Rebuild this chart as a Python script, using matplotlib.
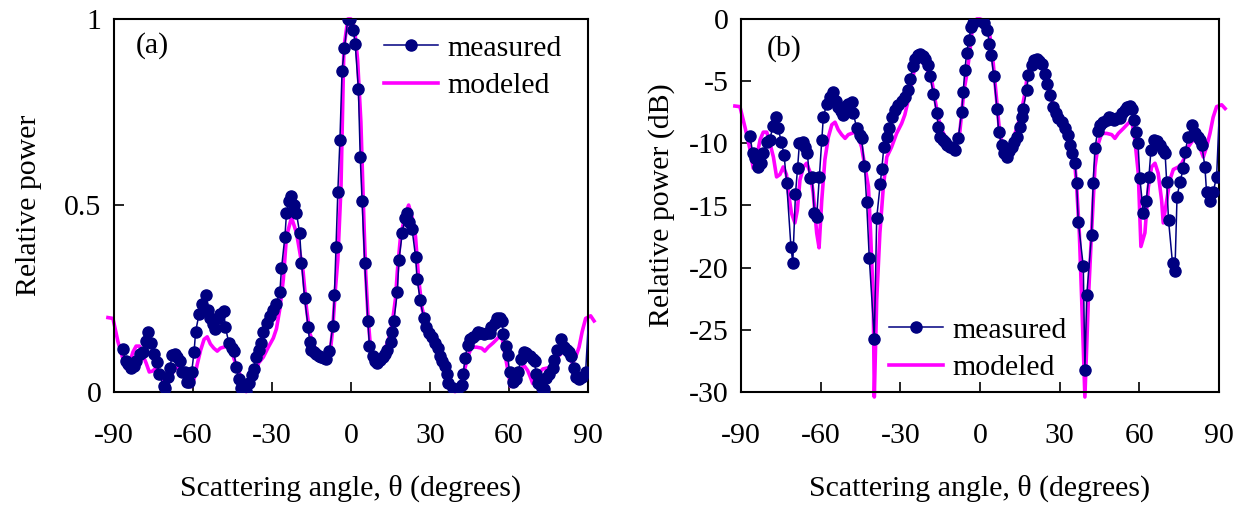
#!/usr/bin/env python3

import numpy as np
import matplotlib
matplotlib.use("Agg")
import matplotlib.pyplot as plt

plt.rcParams['font.family'] = ['Liberation Serif', 'DejaVu Serif']
plt.rcParams['axes.unicode_minus'] = False

# measured data, (angle in degrees, relative power in dB)
meas_theta = [-86.6, -85.6, -84.7, -83.5, -82.5, -81.6, -80.3, -79.1, -78.0, -77.0,
              -76.0, -74.8, -73.8, -72.8, -71.2, -70.5, -69.5, -68.7, -68.0, -66.8,
              -65.9, -65.0, -64.2, -63.2, -62.4, -61.5, -60.5, -59.6, -59.0, -57.7,
              -56.5, -55.2, -54.4, -53.4, -52.3, -51.5, -50.5, -49.6, -48.3, -47.7,
              -46.4, -45.2, -44.6, -43.5, -42.7, -41.7, -39.8, -38.9, -37.6, -37.0,
              -36.2, -35.1, -34.2, -33.3, -32.0, -30.8, -29.5, -28.3, -27.0, -26.4,
              -25.1, -24.5, -23.5, -22.6, -21.6, -20.7, -19.5, -18.8, -17.6, -16.3,
              -15.7, -15.1, -14.1, -13.2, -12.3, -11.3, -10.3, -9.4, -8.2, -6.9,
              -6.3, -5.7, -5.0, -4.2, -3.4, -2.5, -1.2, -0.4, 0.9, 1.6,
              2.8, 3.5, 4.2, 5.2, 6.4, 7.0, 8.2, 9.2, 10.0, 11.0,
              12.0, 12.8, 13.8, 15.0, 15.7, 16.3, 17.6, 18.2, 19.5, 20.4,
              21.3, 22.2, 23.2, 24.5, 25.1, 26.3, 27.6, 28.6, 29.5, 30.7,
              32.0, 33.2, 33.8, 34.5, 35.8, 36.4, 37.0, 38.9, 39.5, 40.2,
              42.0, 42.6, 43.3, 44.3, 45.2, 46.5, 47.7, 48.4, 49.5, 50.5,
              51.5, 52.7, 53.3, 54.6, 55.5, 56.5, 57.3, 57.9, 58.8, 59.5,
              60.2, 61.5, 62.6, 63.6, 64.4, 65.6, 66.6, 67.8, 69.0, 69.7,
              70.3, 71.0, 72.5, 73.4, 74.2, 75.3, 76.6, 77.2, 78.4, 79.7,
              80.9, 82.0, 82.8, 83.5, 84.7, 85.3, 86.5, 87.8, 89.1, 90.2]
meas_db = [-9.4, -10.8, -11.2, -11.9, -11.6, -10.8, -9.9, -9.7, -8.6, -7.9,
           -8.8, -9.9, -10.9, -13.2, -18.3, -19.6, -14.1, -12.0, -10.0, -9.9,
           -10.3, -10.8, -12.8, -12.7, -15.6, -15.9, -12.7, -9.7, -7.9, -6.8,
           -6.25, -5.85, -6.6, -7.05, -7.4, -7.7, -7.0, -6.8, -6.65, -7.6,
           -8.8, -9.3, -9.6, -11.8, -14.7, -19.2, -25.7, -16.0, -13.3, -12.1,
           -10.3, -9.5, -8.8, -7.9, -7.3, -6.9, -6.6, -6.25, -5.7, -4.8,
           -3.8, -3.2, -2.9, -2.8, -3.0, -3.2, -3.7, -4.6, -6.0, -7.6,
           -8.7, -9.5, -9.7, -9.9, -10.1, -10.3, -10.4, -10.5, -9.6, -7.5,
           -5.85, -4.1, -2.7, -1.7, -0.65, -0.35, 0.0, 0.0, -0.13, -0.3,
           -0.9, -2.0, -2.9, -4.6, -7.2, -9.1, -10.1, -10.8, -11.1, -10.6,
           -10.3, -9.9, -9.5, -8.7, -7.9, -7.2, -5.7, -4.5, -3.7, -3.3,
           -3.2, -3.4, -3.6, -4.4, -5.2, -6.1, -7.05, -7.6, -8.0, -8.3,
           -8.8, -9.3, -10.1, -10.8, -11.6, -13.2, -16.3, -19.9, -28.2, -22.2,
           -17.4, -13.2, -10.4, -9.0, -8.5, -8.3, -8.1, -7.9, -8.0, -8.1,
           -8.0, -8.0, -7.6, -7.3, -7.05, -7.0, -7.2, -8.1, -9.1, -10.0,
           -12.8, -15.6, -14.6, -12.7, -10.5, -9.7, -9.8, -10.1, -10.5, -10.8,
           -13.1, -16.2, -19.65, -20.3, -14.3, -13.1, -12.0, -10.7, -9.5, -8.5,
           -9.2, -9.5, -9.7, -10.1, -11.9, -13.9, -14.6, -13.9, -12.7, -7.1]

# modeled data, (angle in degrees, relative power in dB)
model_theta = [-92.3, -90.4, -88.5, -86.6, -85.4, -84.1, -82.8, -81.6, -80.3, -79.1,
               -77.8, -76.6, -75.3, -74.1, -72.9, -72.2, -71.0, -69.7, -68.8, -67.8,
               -66.5, -65.3, -64.0, -62.8, -61.5, -60.6, -59.6, -58.4, -57.1, -55.8,
               -54.6, -53.4, -52.1, -50.8, -49.6, -48.3, -47.1, -45.8, -44.6, -43.3,
               -42.0, -41.2, -40.2, -39.8, -38.9, -37.7, -36.4, -35.1, -33.3, -31.4,
               -29.5, -28.3, -27.0, -25.7, -24.5, -22.6, -20.7, -18.2, -16.9, -15.7,
               -13.8, -11.3, -9.4, -7.8, -6.9, -6.0, -5.0, -3.8, -2.7, -1.2,
               0.0, 1.3, 2.5, 3.75, 5.0, 5.6, 6.5, 7.3, 8.2, 10.0,
               11.9, 13.2, 14.4, 15.7, 16.9, 17.6, 18.8, 20.7, 21.9, 23.2,
               24.5, 25.7, 27.0, 28.9, 30.7, 32.6, 34.5, 35.8, 36.4, 37.4,
               38.3, 39.5, 40.8, 42.0, 43.3, 44.6, 45.8, 47.7, 49.6, 50.8,
               52.1, 54.0, 55.8, 57.1, 58.3, 59.6, 60.6, 62.1, 63.4, 64.6,
               65.9, 67.1, 68.4, 69.0, 70.3, 71.5, 72.8, 74.7, 76.0, 77.2,
               78.4, 80.3, 82.2, 84.1, 85.3, 86.6, 87.8, 89.1, 91.0, 92.3]
model_db = [-7.0, -7.05, -8.7, -10.5, -12.0, -11.1, -9.7, -9.1, -9.1, -10.0,
            -11.1, -12.7, -12.5, -11.9, -12.5, -13.9, -15.6, -16.4, -15.4, -12.95,
            -11.9, -11.6, -12.3, -14.0, -17.2, -18.4, -14.6, -11.3, -9.5, -8.5,
            -8.3, -8.9, -9.3, -9.6, -9.3, -9.2, -9.1, -9.5, -10.3, -11.9,
            -13.5, -17.2, -22.6, -30.4, -22.6, -17.2, -13.5, -11.1, -10.3, -9.2,
            -8.4, -7.7, -6.5, -5.2, -3.8, -3.3, -3.7, -4.9, -6.5, -8.0,
            -9.2, -10.0, -10.4, -9.5, -7.6, -5.7, -4.5, -2.6, -0.35, 0.0,
            0.0, -0.1, -0.5, -1.4, -3.6, -5.0, -7.05, -8.9, -10.0, -10.7,
            -10.0, -9.2, -8.4, -7.3, -6.0, -4.9, -3.8, -3.2, -3.0, -3.3,
            -3.8, -5.2, -6.5, -7.6, -8.4, -9.2, -10.3, -11.9, -13.5, -17.2,
            -22.6, -30.4, -22.6, -17.2, -11.9, -10.0, -9.2, -9.2, -9.3, -9.6,
            -9.2, -8.8, -8.4, -8.1, -9.7, -12.4, -18.3, -17.2, -13.5, -11.9,
            -11.6, -12.4, -14.6, -16.4, -14.6, -12.95, -12.1, -11.9, -11.6, -11.1,
            -10.3, -9.7, -10.0, -11.1, -10.3, -9.2, -7.9, -7.05, -6.9, -7.2]

x_ticks = [-90, -60, -30, 0, 30, 60, 90]
navy = '#000080'
magenta = '#FF00FF'
fs = 21.5


def style_axes(ax):
    for s in ax.spines.values():
        s.set_linewidth(1.5)
    ax.tick_params(direction='in', length=7.5, width=1.2, labelsize=fs,
                   top=False, right=False)
    ax.tick_params(axis='x', pad=22)
    ax.tick_params(axis='y', pad=9)
    ax.set_xlim(-90, 90)
    ax.set_xticks(x_ticks)
    ax.set_xticklabels([str(t) for t in x_ticks])
    ax.set_xlabel('Scattering angle, θ (degrees)', fontsize=fs, labelpad=19)


def draw_curves(ax, mt, my, dt, dy):
    ax.plot(dt, dy, '-', color=magenta, lw=2.6, clip_on=False, zorder=2,
            label='modeled')
    # last measured point sits just past 90 deg: line only, no marker
    ax.plot(mt, my, '-o', color=navy, lw=1.1, ms=8, markevery=slice(0, len(mt) - 1),
            zorder=3, label='measured')


def add_legend(ax, anchor):
    h, l = ax.get_legend_handles_labels()
    ax.legend(h[::-1], l[::-1], loc='upper left', bbox_to_anchor=anchor,
              frameon=False, fontsize=fs, handlelength=1.8, handletextpad=0.3,
              labelspacing=0.34, borderpad=0, borderaxespad=0)


def main():
    mt = np.array(meas_theta)
    md = np.array(meas_db)
    dt = np.array(model_theta)
    dd = np.array(model_db)

    fig = plt.figure(figsize=(12.45, 5.08), dpi=100)
    ax1 = fig.add_axes([114 / 1245, 1 - 392 / 508, 474 / 1245, 373 / 508])
    ax2 = fig.add_axes([741 / 1245, 1 - 392 / 508, 478 / 1245, 373 / 508])

    # (a) linear power
    draw_curves(ax1, mt, 10 ** (md / 10), dt, 10 ** (dd / 10))
    style_axes(ax1)
    ax1.set_ylim(0, 1)
    ax1.set_yticks([0, 0.5, 1])
    ax1.set_yticklabels(['0', '0.5', '1'])
    ax1.set_ylabel('Relative power', fontsize=fs, labelpad=16)
    ax1.text(0.045, 0.93, '(a)', transform=ax1.transAxes, fontsize=fs, va='center')
    add_legend(ax1, (0.57, 0.957))

    # (b) dB
    draw_curves(ax2, mt, md, dt, dd)
    style_axes(ax2)
    ax2.set_ylim(-30, 0)
    ax2.set_yticks(range(-30, 1, 5))
    ax2.set_yticklabels([str(v) for v in range(-30, 1, 5)])
    ax2.set_ylabel('Relative power (dB)', fontsize=fs, labelpad=10)
    ax2.text(0.054, 0.922, '(b)', transform=ax2.transAxes, fontsize=fs, va='center')
    add_legend(ax2, (0.31, 0.201))

    fig.savefig('out.png', dpi=100)


if __name__ == '__main__':
    main()
